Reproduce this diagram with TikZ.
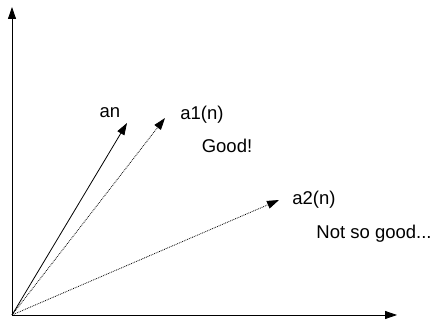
\documentclass[tikz,border=0pt]{standalone}
\usepackage{fontspec}
\setmainfont{Liberation Sans}
\usetikzlibrary{arrows.meta}
\begin{document}
\begin{tikzpicture}[x=1pt,y=1pt,
  vec/.style={line width=0.8pt,-{Triangle[length=12pt,width=8pt]}},
  dvec/.style={vec,densely dotted},
  lbl/.style={inner sep=0pt,font=\fontsize{18.5}{22}\selectfont}]
\useasboundingbox (0,0) rectangle (435,320);
\coordinate (O) at (12,5);
\coordinate (Y) at (12,313);
\coordinate (X) at (397,5);
\coordinate (an) at (127,197);
\coordinate (a1) at (165,202);
\coordinate (a2) at (279,120);
\draw[vec] (O) -- (Y);
\draw[vec] (O) -- (X);
\draw[vec] (O) -- (an);
\draw[dvec] (O) -- (a1);
\draw[dvec] (O) -- (a2);
\node[lbl] (tan) at (110,207) {an};
\node[lbl] (ta1) at (202,205) {a1(n)};
\node[lbl] (tgood) at (227,174) {Good!};
\node[lbl] (ta2) at (314,120) {a2(n)};
\node[lbl] (tnot) at (374,86) {Not so good...};
\end{tikzpicture}
\end{document}
